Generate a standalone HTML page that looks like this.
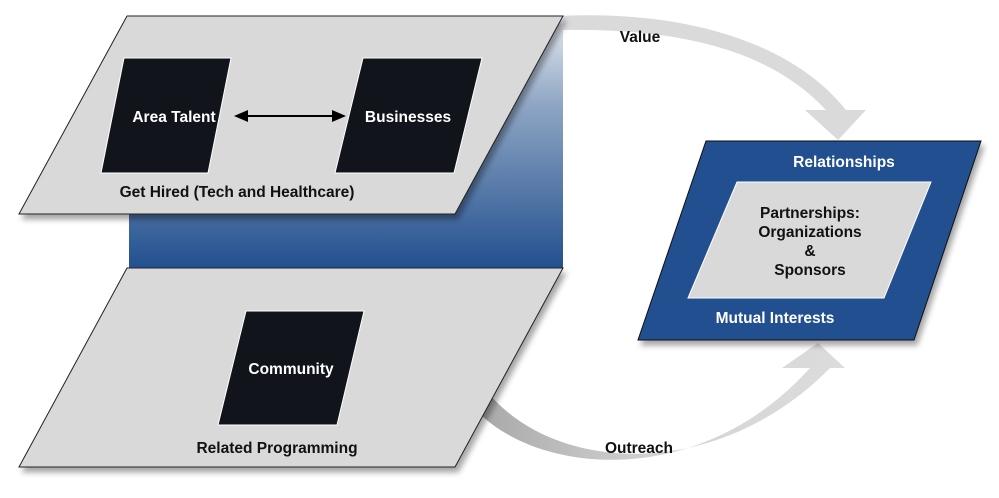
<!DOCTYPE html>
<html><head><meta charset="utf-8"><style>
body{margin:0;background:#fff}
svg text{font-family:"Liberation Sans",Arial,sans-serif;font-weight:bold;font-size:15.5px}
</style></head><body>
<svg width="999" height="493" viewBox="0 0 999 493" xmlns="http://www.w3.org/2000/svg">
<defs>
<linearGradient id="bg" x1="0" y1="0" x2="0" y2="1">
<stop offset="0" stop-color="#e6eaf0"/><stop offset="0.35" stop-color="#8fa6c4"/><stop offset="1" stop-color="#22508f"/></linearGradient>
<linearGradient id="ag" x1="0" y1="0" x2="1" y2="0">
<stop offset="0" stop-color="#a8a8a8"/><stop offset="0.5" stop-color="#d4d4d4"/><stop offset="1" stop-color="#dcdcdc"/></linearGradient>
<filter id="sh" x="-10%" y="-10%" width="130%" height="130%"><feDropShadow dx="3" dy="5" stdDeviation="3" flood-color="#000" flood-opacity="0.35"/></filter>
</defs>
<path d="M560,16 C680,10 790,40 846,110 L866,110 L838,140 L805,110 L826,110 C770,50 680,28 563,30 Z" fill="#dadada"/>
<path d="M478,412 C540,475 700,490 810,368 L782,368 L818,343 L845,368 L830,368 C720,480 560,475 490,395 Z" fill="url(#ag)"/>
<rect x="129" y="16" width="434" height="252" fill="url(#bg)"/>
<polygon points="127,16 563,16 455,214 19,214" fill="#d9d9d9" stroke="#222" stroke-width="1" filter="url(#sh)"/>
<polygon points="124,58 231,58 208,173 101,173" fill="#12141c" stroke="#fff" stroke-width="1"/>
<polygon points="363,58 482,58 454,173 335,173" fill="#12141c" stroke="#fff" stroke-width="1"/>
<line x1="242" y1="116" x2="336" y2="116" stroke="#000" stroke-width="2"/>
<polygon points="234,116 248,110 248,122" fill="#000"/>
<polygon points="346,116 332,110 332,122" fill="#000"/>
<text x="174" y="122" fill="#fff" text-anchor="middle">Area Talent</text>
<text x="408" y="122" fill="#fff" text-anchor="middle">Businesses</text>
<text x="237" y="197" fill="#111" text-anchor="middle">Get Hired (Tech and Healthcare)</text>
<polygon points="127,268 563,268 455,467 19,467" fill="#d9d9d9" stroke="#222" stroke-width="1" filter="url(#sh)"/>
<polygon points="246,311 364,311 337,425 218,425" fill="#12141c" stroke="#fff" stroke-width="1"/>
<text x="291" y="374" fill="#fff" text-anchor="middle">Community</text>
<text x="277" y="453" fill="#111" text-anchor="middle">Related Programming</text>
<polygon points="706,141 981,141 914,340 638,340" fill="#22508f" stroke="#111" stroke-width="1" filter="url(#sh)"/>
<polygon points="737,182 931,182 884,298 688,298" fill="#d9d9d9" stroke="#fff" stroke-width="1"/>
<text x="844" y="167" fill="#fff" text-anchor="middle">Relationships</text>
<text x="810" y="218" fill="#111" text-anchor="middle">Partnerships:</text>
<text x="810" y="237" fill="#111" text-anchor="middle">Organizations</text>
<text x="810" y="256" fill="#111" text-anchor="middle">&amp;</text>
<text x="810" y="275" fill="#111" text-anchor="middle">Sponsors</text>
<text x="775" y="323" fill="#fff" text-anchor="middle">Mutual Interests</text>
<text x="640" y="42" fill="#111" text-anchor="middle">Value</text>
<text x="639" y="453" fill="#111" text-anchor="middle">Outreach</text>
</svg>
</body></html>
